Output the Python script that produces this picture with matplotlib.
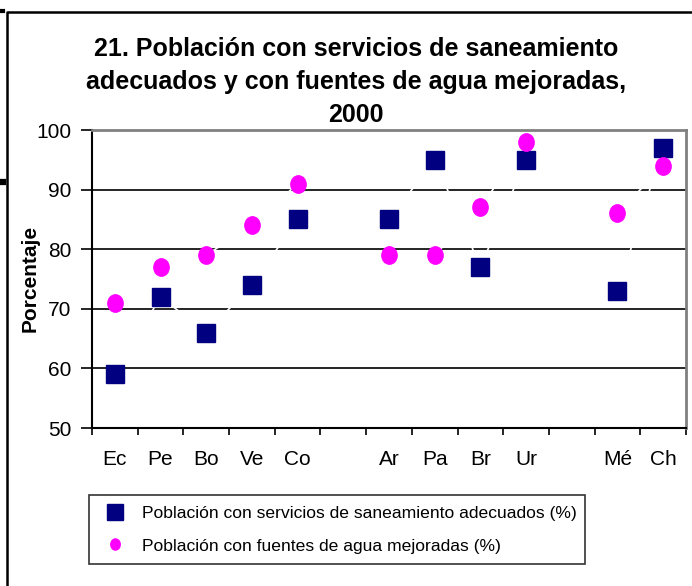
import numpy as np
import matplotlib
matplotlib.use("Agg")
import matplotlib.pyplot as plt
from matplotlib.lines import Line2D
from matplotlib.path import Path
from matplotlib.transforms import Affine2D

plt.rcParams['font.family'] = ['Liberation Sans', 'DejaVu Sans']

# data (blank slots separate the country groups)
paises = ["Ec", "Pe", "Bo", "Ve", "Co", "", "Ar", "Pa", "Br", "Ur", "", "Mé", "Ch"]
saneamiento = [59, 72, 66, 74, 85, np.nan, 85, 95, 77, 95, np.nan, 73, 97]
agua = [71, 77, 79, 84, 91, np.nan, 79, 79, 87, 98, np.nan, 86, 94]
yticks = [50, 60, 70, 80, 90, 100]

titulo = "21. Población con servicios de saneamiento\nadecuados y con fuentes de agua mejoradas,\n2000"
lbl_san = "Población con servicios de saneamiento adecuados (%)"
lbl_agua = "Población con fuentes de agua mejoradas (%)"

W, H = 692, 586
fig = plt.figure(figsize=(W / 100, H / 100), dpi=100)

def fx(px):
    return px / W

def fy(py):
    return 1 - py / H

ax = fig.add_axes([fx(92), fy(428), fx(686) - fx(92), fy(130) - fy(428)])

x = np.arange(len(paises))
oval = Path.unit_circle().transformed(Affine2D().scale(0.88, 1.0))

# white joining lines that show through the gridlines
ax.plot(x, saneamiento, color="white", lw=1.2, zorder=2)
ax.plot(x, agua, color="white", lw=1.2, zorder=2)
ax.plot(x, saneamiento, ls="none", marker="s", ms=13.5, color="#000080", zorder=3)
ax.plot(x, agua, ls="none", marker=oval, ms=12.5, color="#FF00FF", zorder=3)

ax.set_xlim(-0.5, len(paises) - 0.5)
ax.set_ylim(50, 100)
ax.set_yticks(yticks)
ax.set_xticks(x)
ax.set_xticklabels(paises)
ax.set_xticks(np.arange(-0.5, len(paises)), minor=True)
ax.tick_params(axis="x", which="major", length=0, pad=16, labelsize=15)
ax.tick_params(axis="x", which="minor", length=5, width=1.2, direction="out")
ax.tick_params(axis="y", length=8, width=1.2, direction="out", pad=7, labelsize=15)

ax.set_axisbelow(True)
ax.yaxis.grid(True, color="black", lw=1.2)

for s in ["left", "bottom"]:
    ax.spines[s].set_color("black")
    ax.spines[s].set_linewidth(1.5)
for s in ["top", "right"]:
    ax.spines[s].set_color("#808080")
    ax.spines[s].set_linewidth(2)

fig.text(fx(30), fy(278), "Porcentaje", rotation=90, ha="center", va="center",
         fontsize=15, fontweight="bold")

fig.text(fx(356), fy(82), titulo, ha="center", va="center", fontsize=18,
         fontweight="bold", linespacing=1.45)

handles = [
    Line2D([], [], ls="none", marker="s", ms=11.5, color="#000080"),
    Line2D([], [], ls="none", marker=Path.unit_circle().transformed(Affine2D().scale(0.85, 1.0)),
           ms=8, color="#FF00FF"),
]
leg = fig.legend(handles, [lbl_san, lbl_agua], loc="center",
                 bbox_to_anchor=(fx(89), fy(569), fx(585) - fx(89), fy(490) - fy(569)),
                 mode="expand", fontsize=12.6, frameon=True, fancybox=False,
                 edgecolor="black", borderpad=0.6, handletextpad=0.6, labelspacing=1.0,
                 handlelength=1.8, borderaxespad=0)
leg.get_frame().set_linewidth(1.2)

# outer chart frame (cropped on the right and bottom)
fig.add_artist(Line2D([fx(7), fx(7), fx(W)], [0, fy(12), fy(12)], color="black", lw=1.8,
                      transform=fig.transFigure))
fig.add_artist(Line2D([0, fx(3)], [fy(11), fy(11)], color="black", lw=3, transform=fig.transFigure))
fig.add_artist(Line2D([0, fx(3)], [fy(182), fy(182)], color="black", lw=4.5, transform=fig.transFigure))

fig.savefig("out.png", dpi=100)
